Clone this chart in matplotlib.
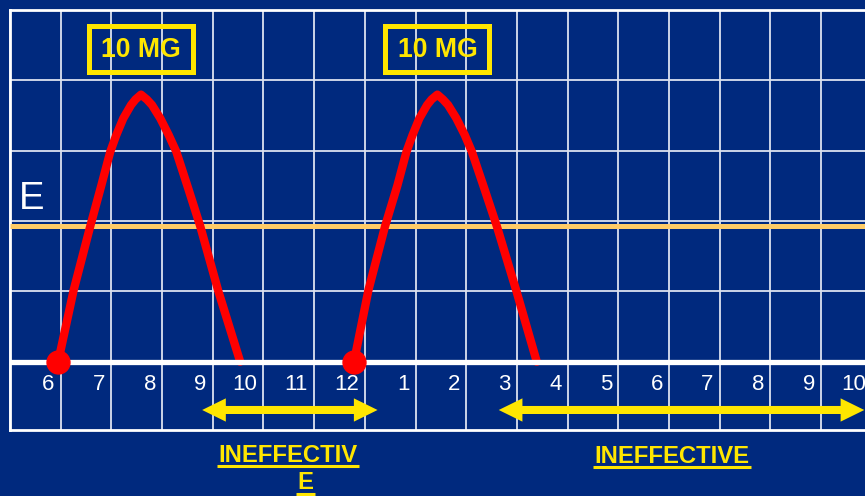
import matplotlib
matplotlib.use("Agg")
import matplotlib.pyplot as plt
from matplotlib.patches import Rectangle
from matplotlib import font_manager

# Clock labels under each hour gridline (6 am through 10 am next day)
hour_labels = ["6", "7", "8", "9", "10", "11", "12", "1", "2", "3", "4",
               "5", "6", "7", "8", "9", "10"]

# Drug level after each 10 mg dose (x in hours from 6 o'clock, y in grid rows)
dose1_t = [-0.05, 0.256, 0.585, 0.80, 0.978, 1.097, 1.235, 1.387, 1.475,
           1.584, 1.70, 1.801, 1.964, 2.130, 2.280, 2.52, 2.75, 3.11, 3.54]
dose1_y = [0.00, 1.018, 1.93, 2.50, 2.983, 3.220, 3.457, 3.646, 3.725,
           3.794, 3.725, 3.646, 3.457, 3.220, 2.983, 2.45, 1.93, 1.00, 0.00]
dose2_t = [5.785, 6.07, 6.40, 6.64, 6.82, 6.94, 7.075, 7.227, 7.315,
           7.43, 7.54, 7.641, 7.804, 7.97, 8.11, 8.36, 8.60, 8.99, 9.39]
dose2_y = [0.00, 1.018, 1.93, 2.50, 2.983, 3.220, 3.457, 3.646, 3.725,
           3.794, 3.725, 3.646, 3.457, 3.220, 2.983, 2.45, 1.93, 1.00, 0.00]
dose_labels = ["10 MG", "10 MG"]

# Effective level threshold
effective_level = 1.93

# Periods with the level below the effective threshold
ineffective_start = [2.79, 8.64]
ineffective_end = [6.25, 15.85]

NAVY = "#00297E"
YELLOW = "#FFE600"
RED = "#FF0000"
ORANGE = "#FFCC66"
GRID = "#DCE2F0"

# Make sure system Liberation fonts are registered
for path in font_manager.findSystemFonts():
    if "Liberation" in path:
        try:
            font_manager.fontManager.addfont(path)
        except Exception:
            pass
available = {f.name for f in font_manager.fontManager.ttflist}
sans = "Liberation Sans" if "Liberation Sans" in available else "DejaVu Sans"

fig = plt.figure(figsize=(8.65, 4.96), dpi=100, facecolor=NAVY)
ax = fig.add_axes([0, 0, 1, 1])
ax.set_facecolor(NAVY)
ax.set_xlim(-1.1972, 15.864)
ax.set_ylim(-1.9077, 5.1378)
ax.axis("off")

x_left, x_right = -1.0, 16.5
y_bottom, y_top = -0.97, 5.0

# Grid
for i in range(-1, 17):
    ax.plot([i, i], [y_bottom, y_top], color=GRID, lw=1.3, zorder=1,
            solid_capstyle="butt")
for r in range(1, 5):
    ax.plot([x_left, x_right], [r, r], color=GRID, lw=1.3, zorder=1,
            solid_capstyle="butt")
ax.plot([x_left, x_right], [y_top, y_top], color="white", lw=2.0, zorder=2)
ax.plot([x_left, x_right], [y_bottom, y_bottom], color="white", lw=2.0, zorder=2)
ax.plot([x_left, x_left], [y_bottom, y_top], color="white", lw=2.0, zorder=2)

# Effective threshold line
ax.plot([x_left, x_right], [effective_level, effective_level], color=ORANGE,
        lw=3.6, zorder=3, solid_capstyle="butt")
ax.text(-0.828, 2.165, "E", color="white", fontsize=27.5, family=sans,
        ha="left", va="baseline", zorder=6)

# Level curves
for t, y in ((dose1_t, dose1_y), (dose2_t, dose2_y)):
    ax.plot(t, y, color=RED, lw=6.0, solid_joinstyle="round",
            solid_capstyle="round", zorder=4)

# Time axis
ax.plot([x_left, x_right], [0, 0], color="white", lw=3.8, zorder=5,
        solid_capstyle="butt")
for i, lab in enumerate(hour_labels):
    ax.text(i - 0.12, -0.398, lab, color="white", fontsize=16, family=sans,
            ha="right", va="baseline", zorder=6)

# Dose markers
ax.plot([dose1_t[0], dose2_t[0]], [dose1_y[0], dose2_y[0]], "o", color=RED,
        ms=16.5, zorder=6)

# Dose boxes centred over each peak
for t, y, lab in ((dose1_t, dose1_y, dose_labels[0]),
                  (dose2_t, dose2_y, dose_labels[1])):
    peak_t = t[y.index(max(y))]
    ax.add_patch(Rectangle((peak_t - 1.026, 4.435 - 0.327), 2.052, 0.654,
                           fill=False, edgecolor=YELLOW, lw=3.6, zorder=6))
    ax.text(peak_t, 4.324, lab, color=YELLOW, fontsize=19.2, family=sans,
            fontweight="bold", ha="center", va="baseline", zorder=7)

# Ineffective-period arrows (one head at each end)
arrow_y = -0.686
head_len = 0.467
for a, b in zip(ineffective_start, ineffective_end):
    for s, e in ((a + head_len, b), (b - head_len, a)):
        ax.arrow(s, arrow_y, e - s, 0, width=0.114, head_width=0.331,
                 head_length=head_len, length_includes_head=True,
                 color=YELLOW, lw=0, zorder=6)

# Captions (underlined)
captions = [(4.479, -1.420, "INEFFECTIV"), (4.834, -1.8125, "E"),
            (12.063, -1.435, "INEFFECTIVE")]
text_objs = []
for x, y, s in captions:
    text_objs.append(ax.text(x, y, s, color=YELLOW, fontsize=17.2, family=sans,
                             fontweight="bold", ha="center", va="baseline",
                             zorder=7))

fig.canvas.draw()
renderer = fig.canvas.get_renderer()
inv = ax.transData.inverted()
for t in text_objs:
    bb = t.get_window_extent(renderer)
    base_disp = ax.transData.transform((0, t.get_position()[1]))[1]
    (x0, yu), (x1, _) = inv.transform([(bb.x0 - 1.5, base_disp - 4.3),
                                       (bb.x1 + 1.5, base_disp - 4.3)])
    ax.plot([x0, x1], [yu, yu], color=YELLOW, lw=2.2, zorder=7,
            solid_capstyle="butt")

fig.savefig("out.png", dpi=100, facecolor=NAVY)
